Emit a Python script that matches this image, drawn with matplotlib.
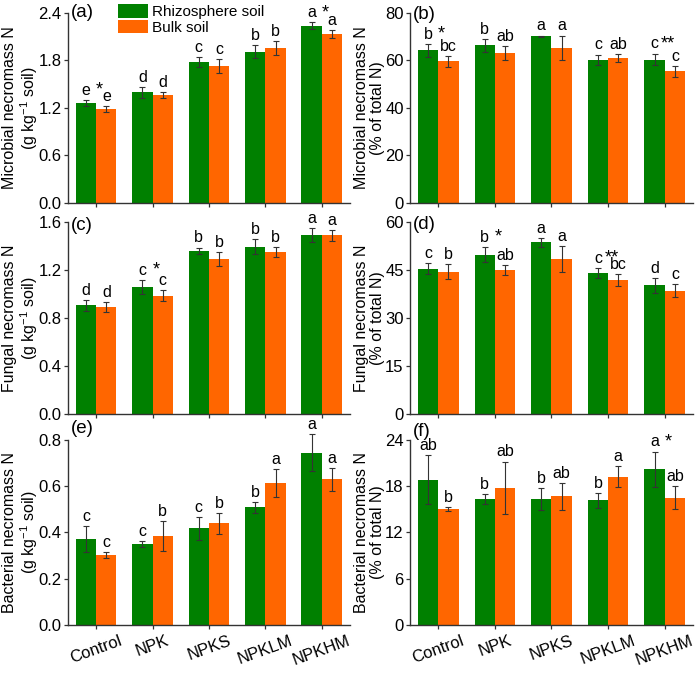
import numpy as np
import matplotlib
matplotlib.use('Agg')
import matplotlib.pyplot as plt
from matplotlib.ticker import FormatStrFormatter

plt.rcParams['font.family'] = ['Liberation Sans', 'DejaVu Sans']
plt.rcParams['mathtext.default'] = 'regular'

treatments = ['Control', 'NPK', 'NPKS', 'NPKLM', 'NPKHM']

# (a) microbial necromass N, g/kg
micro_n_rhizo = [1.26, 1.40, 1.78, 1.91, 2.24]
micro_n_rhizo_err = [0.04, 0.07, 0.06, 0.08, 0.04]
micro_n_bulk = [1.19, 1.36, 1.73, 1.96, 2.13]
micro_n_bulk_err = [0.04, 0.04, 0.09, 0.09, 0.05]
micro_n_let_rhizo = ['e', 'd', 'c', 'b', 'a']
micro_n_let_bulk = ['e', 'd', 'c', 'b', 'a']
micro_n_stars = ['*', '', '', '', '*']

# (b) microbial necromass N, % of total N
micro_pct_rhizo = [64.3, 66.4, 70.1, 60.3, 60.4]
micro_pct_rhizo_err = [2.8, 2.7, 0.4, 2.2, 2.5]
micro_pct_bulk = [59.6, 63.2, 65.3, 61.1, 55.4]
micro_pct_bulk_err = [2.4, 2.9, 5.2, 1.7, 2.4]
micro_pct_let_rhizo = ['b', 'b', 'a', 'c', 'c']
micro_pct_let_bulk = ['bc', 'ab', 'a', 'ab', 'c']
micro_pct_stars = ['*', '', '', '', '**']

# (c) fungal necromass N, g/kg
fung_n_rhizo = [0.906, 1.058, 1.362, 1.395, 1.49]
fung_n_rhizo_err = [0.047, 0.056, 0.025, 0.06, 0.06]
fung_n_bulk = [0.89, 0.985, 1.29, 1.35, 1.49]
fung_n_bulk_err = [0.04, 0.047, 0.06, 0.04, 0.045]
fung_n_let_rhizo = ['d', 'c', 'b', 'b', 'a']
fung_n_let_bulk = ['d', 'c', 'b', 'b', 'a']
fung_n_stars = ['', '*', '', '', '']

# (d) fungal necromass N, % of total N
fung_pct_rhizo = [45.4, 49.8, 53.6, 44.0, 40.2]
fung_pct_rhizo_err = [1.7, 2.3, 1.45, 1.55, 2.3]
fung_pct_bulk = [44.5, 45.0, 48.4, 41.9, 38.5]
fung_pct_bulk_err = [2.4, 1.45, 4.0, 1.75, 2.0]
fung_pct_let_rhizo = ['c', 'b', 'a', 'c', 'd']
fung_pct_let_bulk = ['b', 'ab', 'a', 'bc', 'c']
fung_pct_stars = ['', '*', '', '**', '']

# (e) bacterial necromass N, g/kg
bact_n_rhizo = [0.371, 0.35, 0.418, 0.508, 0.745]
bact_n_rhizo_err = [0.055, 0.013, 0.05, 0.023, 0.08]
bact_n_bulk = [0.302, 0.385, 0.44, 0.615, 0.63]
bact_n_bulk_err = [0.013, 0.063, 0.045, 0.06, 0.05]
bact_n_let_rhizo = ['c', 'c', 'c', 'b', 'a']
bact_n_let_bulk = ['c', 'b', 'b', 'a', 'a']
bact_n_stars = ['', '', '', '', '']

# (f) bacterial necromass N, % of total N
bact_pct_rhizo = [18.86, 16.37, 16.37, 16.16, 20.2]
bact_pct_rhizo_err = [3.2, 0.65, 1.4, 0.95, 2.3]
bact_pct_bulk = [15.04, 17.8, 16.7, 19.24, 16.5]
bact_pct_bulk_err = [0.3, 3.4, 1.75, 1.4, 1.5]
bact_pct_let_rhizo = ['ab', 'b', 'b', 'b', 'a']
bact_pct_let_bulk = ['b', 'ab', 'ab', 'a', 'ab']
bact_pct_stars = ['', '', '', '', '*']

GREEN = '#008000'
ORANGE = '#ff6600'
DARK = '#333333'
W = 0.36


def draw_panel(ax, r, r_err, b, b_err, let_r, let_b, stars, ylim, yticks, fmt,
               ylabel, tag, tag_y, show_x):
    x = np.arange(len(treatments))
    ax.bar(x - W / 2, r, W, color=GREEN, label='Rhizosphere soil')
    ax.bar(x + W / 2, b, W, color=ORANGE, label='Bulk soil')
    for xs, ys, es in [(x - W / 2, r, r_err), (x + W / 2, b, b_err)]:
        eb = ax.errorbar(xs, ys, yerr=es, fmt='none', ecolor=DARK,
                         elinewidth=0.8, capsize=2.2, capthick=0.8)
        for ln in eb.lines[1] + eb.lines[2]:
            ln.set_clip_on(False)
    # letters above bars, stars between the pair
    for i in range(len(x)):
        top_r = r[i] + r_err[i]
        top_b = b[i] + b_err[i]
        ax.annotate(let_r[i], (x[i] - W / 2, top_r), xytext=(0, 1.5),
                    textcoords='offset points', ha='center', va='bottom',
                    fontsize=11.5, annotation_clip=False)
        ax.annotate(let_b[i], (x[i] + W / 2, top_b), xytext=(0, 1.5),
                    textcoords='offset points', ha='center', va='bottom',
                    fontsize=11.5, annotation_clip=False)
        if stars[i]:
            ax.annotate(stars[i], (x[i] + 0.06, max(top_r, top_b)),
                        xytext=(0, 1), textcoords='offset points',
                        ha='center', va='bottom', fontsize=13,
                        annotation_clip=False)

    ax.set_xlim(-0.5, 4.5)
    ax.set_ylim(*ylim)
    ax.set_yticks(yticks)
    ax.yaxis.set_major_formatter(FormatStrFormatter(fmt))
    ax.set_xticks(x)
    if show_x:
        ax.set_xticklabels(treatments, rotation=20, ha='center', fontsize=12.5)
    else:
        ax.set_xticklabels([])
    for s in ['top', 'right']:
        ax.spines[s].set_visible(False)
    for s in ['left', 'bottom']:
        ax.spines[s].set_color(DARK)
        ax.spines[s].set_linewidth(1.0)
    ax.tick_params(direction='out', length=3, width=0.9, color=DARK,
                   labelsize=12, pad=1.5)
    ax.tick_params(axis='x', pad=3)
    ax.set_ylabel(ylabel, fontsize=11.5, linespacing=1.05)
    ax.text(0.01, tag_y, tag, transform=ax.transAxes, fontsize=13.5,
            ha='left', va='center')


fig = plt.figure(figsize=(7, 6.75), dpi=100)

cols = [(0.0971, 0.4029), (0.5857, 0.4043)]
rows = [(0.6993, 0.2815), (0.3867, 0.2844), (0.0741, 0.2741)]

ax_a = fig.add_axes([cols[0][0], rows[0][0], cols[0][1], rows[0][1]])
ax_b = fig.add_axes([cols[1][0], rows[0][0], cols[1][1], rows[0][1]])
ax_c = fig.add_axes([cols[0][0], rows[1][0], cols[0][1], rows[1][1]])
ax_d = fig.add_axes([cols[1][0], rows[1][0], cols[1][1], rows[1][1]])
ax_e = fig.add_axes([cols[0][0], rows[2][0], cols[0][1], rows[2][1]])
ax_f = fig.add_axes([cols[1][0], rows[2][0], cols[1][1], rows[2][1]])

unit_soil = '(g kg$^{-1}$ soil)'
unit_pct = '(% of total N)'

draw_panel(ax_a, micro_n_rhizo, micro_n_rhizo_err, micro_n_bulk, micro_n_bulk_err,
           micro_n_let_rhizo, micro_n_let_bulk, micro_n_stars,
           (0, 2.4), np.arange(0, 2.41, 0.6), '%.1f',
           'Microbial necromass N\n' + unit_soil, '(a)', 1.0, False)
draw_panel(ax_b, micro_pct_rhizo, micro_pct_rhizo_err, micro_pct_bulk, micro_pct_bulk_err,
           micro_pct_let_rhizo, micro_pct_let_bulk, micro_pct_stars,
           (0, 80), np.arange(0, 81, 20), '%d',
           'Microbial necromass N\n' + unit_pct, '(b)', 0.99, False)
draw_panel(ax_c, fung_n_rhizo, fung_n_rhizo_err, fung_n_bulk, fung_n_bulk_err,
           fung_n_let_rhizo, fung_n_let_bulk, fung_n_stars,
           (0, 1.6), np.arange(0, 1.61, 0.4), '%.1f',
           'Fungal necromass N\n' + unit_soil, '(c)', 0.98, False)
draw_panel(ax_d, fung_pct_rhizo, fung_pct_rhizo_err, fung_pct_bulk, fung_pct_bulk_err,
           fung_pct_let_rhizo, fung_pct_let_bulk, fung_pct_stars,
           (0, 60), np.arange(0, 61, 15), '%d',
           'Fungal necromass N\n' + unit_pct, '(d)', 0.985, False)
draw_panel(ax_e, bact_n_rhizo, bact_n_rhizo_err, bact_n_bulk, bact_n_bulk_err,
           bact_n_let_rhizo, bact_n_let_bulk, bact_n_stars,
           (0, 0.8), np.arange(0, 0.81, 0.2), '%.1f',
           'Bacterial necromass N\n' + unit_soil, '(e)', 1.06, True)
draw_panel(ax_f, bact_pct_rhizo, bact_pct_rhizo_err, bact_pct_bulk, bact_pct_bulk_err,
           bact_pct_let_rhizo, bact_pct_let_bulk, bact_pct_stars,
           (0, 24), np.arange(0, 25, 6), '%d',
           'Bacterial necromass N\n' + unit_pct, '(f)', 1.045, True)

# y label placement
for ax in [ax_a, ax_c, ax_e]:
    ax.yaxis.set_label_coords(-0.1, 0.5)
for ax in [ax_b, ax_d, ax_f]:
    ax.yaxis.set_label_coords(-0.088, 0.5)

ax_a.legend(loc='upper left', bbox_to_anchor=(0.177, 1.045), frameon=False,
            fontsize=11, handlelength=1.95, handleheight=0.95,
            labelspacing=0.05, handletextpad=0.3, borderpad=0,
            borderaxespad=0)

fig.savefig('out.png', dpi=100)
